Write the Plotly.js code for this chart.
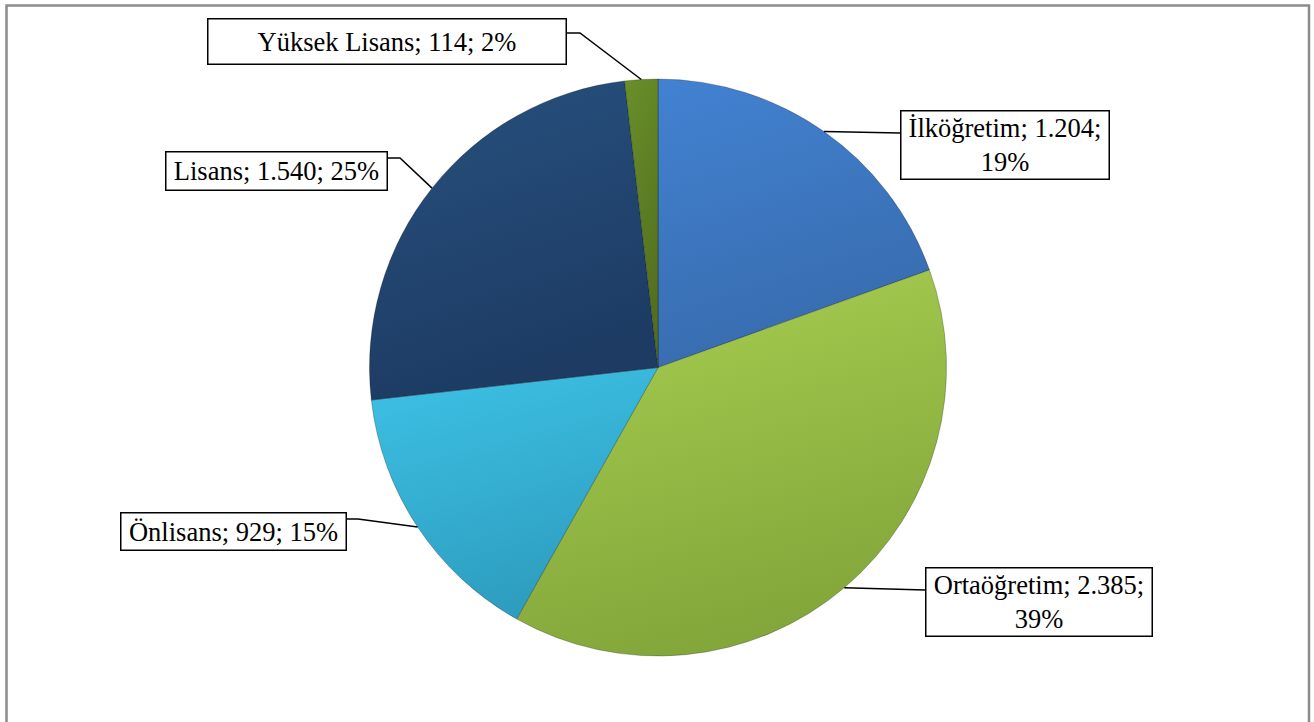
<!DOCTYPE html>
<html>
<head>
<meta charset="utf-8">
<script src="https://cdn.plot.ly/plotly-3.0.1.min.js"></script>
<style>
  html, body { margin: 0; padding: 0; background: #ffffff; }
  #chart { width: 1314px; height: 722px; }
</style>
</head>
<body>
<div id="chart"></div>
<script>
// Data
const categories = ['İlköğretim', 'Ortaöğretim', 'Önlisans', 'Lisans', 'Yüksek Lisans'];
const counts = [1204, 2385, 929, 1540, 114];
const percents = [19, 39, 15, 25, 2];
const wrapAfterCount = [true, true, false, false, false];

const colors = ['#3c77c2', '#98bf47', '#37b3d9', '#224677', '#5e7f24'];
// light / dark ends for the shaded look of each slice
const shadeTop = ['#4282d2', '#a9d052', '#3dc2e6', '#27517f', '#6a8f29'];
const shadeBottom = ['#386cae', '#83a73a', '#2e9ec0', '#1d3b63', '#526f1f'];

const W = 1314, H = 722;
const CX = 658, CY = 367.5, R = 288.5;
const FONT = 'Liberation Serif';

// label boxes, pixel positions (center, size) and leader elbows
const boxes = [
    { x: 1005, y: 145, w: 210, h: 70, side: 'left', lineY: 133, elbow: null },
    { x: 1039, y: 601.5, w: 228, h: 70, side: 'left', lineY: 590, elbow: null },
    { x: 233.5, y: 531.5, w: 227, h: 39, side: 'right', lineY: 519, elbow: 358 },
    { x: 276.5, y: 171, w: 223, h: 40, side: 'right', lineY: 158, elbow: 400 },
    { x: 387, y: 41.5, w: 360, h: 47, side: 'right', lineY: 33, elbow: 580 }
];

const px = (x) => x / W;
const py = (y) => 1 - y / H;
const fmt = (n) => String(n).replace(/\B(?=(\d{3})+(?!\d))/g, '.');

const total = counts.reduce((a, b) => a + b, 0);

// leader tips on the rim at each slice's middle angle (clockwise from 12 o'clock)
let cum = 0;
const tips = counts.map((v) => {
    const mid = (cum + v / 2) / total * 2 * Math.PI;
    cum += v;
    return [CX + R * Math.sin(mid), CY - R * Math.cos(mid)];
});

const annotations = categories.map((c, i) => {
    const b = boxes[i];
    const sep = wrapAfterCount[i] ? '<br>' : ' ';
    return {
        xref: 'paper', yref: 'paper',
        x: px(b.x), y: py(b.y),
        xanchor: 'center', yanchor: 'middle',
        text: c + '; ' + fmt(counts[i]) + ';' + sep + percents[i] + '%',
        showarrow: false,
        width: b.w - 3, height: b.h - 3,
        align: 'center', valign: 'middle',
        bordercolor: '#000000', borderwidth: 1.5, borderpad: 0,
        bgcolor: '#ffffff',
        font: { family: FONT, size: 26.5, color: '#000000' }
    };
});

const shapes = categories.map((c, i) => {
    const b = boxes[i];
    const t = tips[i];
    const edgeX = b.side === 'left' ? b.x - b.w / 2 : b.x + b.w / 2;
    let path = 'M' + px(t[0]) + ',' + py(t[1]);
    if (b.elbow !== null) path += ' L' + px(b.elbow) + ',' + py(b.lineY);
    path += ' L' + px(edgeX) + ',' + py(b.lineY);
    return {
        type: 'path', xref: 'paper', yref: 'paper', path: path,
        line: { color: '#000000', width: 1.5 }
    };
});

// outer chart frame
shapes.push({
    type: 'rect', xref: 'paper', yref: 'paper',
    x0: px(6.5), x1: px(1309), y0: -0.05, y1: py(5.5),
    line: { color: '#8c8c8c', width: 2.5 }
});

const trace = {
    type: 'pie',
    labels: categories,
    values: counts,
    sort: false,
    direction: 'clockwise',
    rotation: 0,
    textinfo: 'none',
    hoverinfo: 'none',
    marker: { colors: colors, line: { color: 'rgba(0,0,0,0.25)', width: 1 } },
    domain: { x: [px(CX - R), px(CX + R)], y: [py(CY + R), py(CY - R)] }
};

const layout = {
    width: W, height: H,
    margin: { l: 0, r: 0, t: 0, b: 0 },
    paper_bgcolor: '#ffffff',
    showlegend: false,
    font: { family: FONT },
    annotations: annotations,
    shapes: shapes
};

Plotly.newPlot('chart', [trace], layout, { displayModeBar: false, staticPlot: true }).then((gd) => {
    // give each slice a soft vertical shading
    const svgNS = 'http://www.w3.org/2000/svg';
    const svg = gd.querySelector('svg.main-svg');
    const defs = document.createElementNS(svgNS, 'defs');
    svg.insertBefore(defs, svg.firstChild);
    gd.querySelectorAll('g.slice path.surface').forEach((p, i) => {
        const g = document.createElementNS(svgNS, 'linearGradient');
        g.setAttribute('id', 'shade' + i);
        g.setAttribute('x1', '0'); g.setAttribute('y1', '0');
        g.setAttribute('x2', '0.3'); g.setAttribute('y2', '1');
        [[0, shadeTop[i]], [1, shadeBottom[i]]].forEach(([o, c]) => {
            const s = document.createElementNS(svgNS, 'stop');
            s.setAttribute('offset', o);
            s.setAttribute('stop-color', c);
            g.appendChild(s);
        });
        defs.appendChild(g);
        p.style.fill = 'url(#shade' + i + ')';
    });
});
</script>
</body>
</html>
